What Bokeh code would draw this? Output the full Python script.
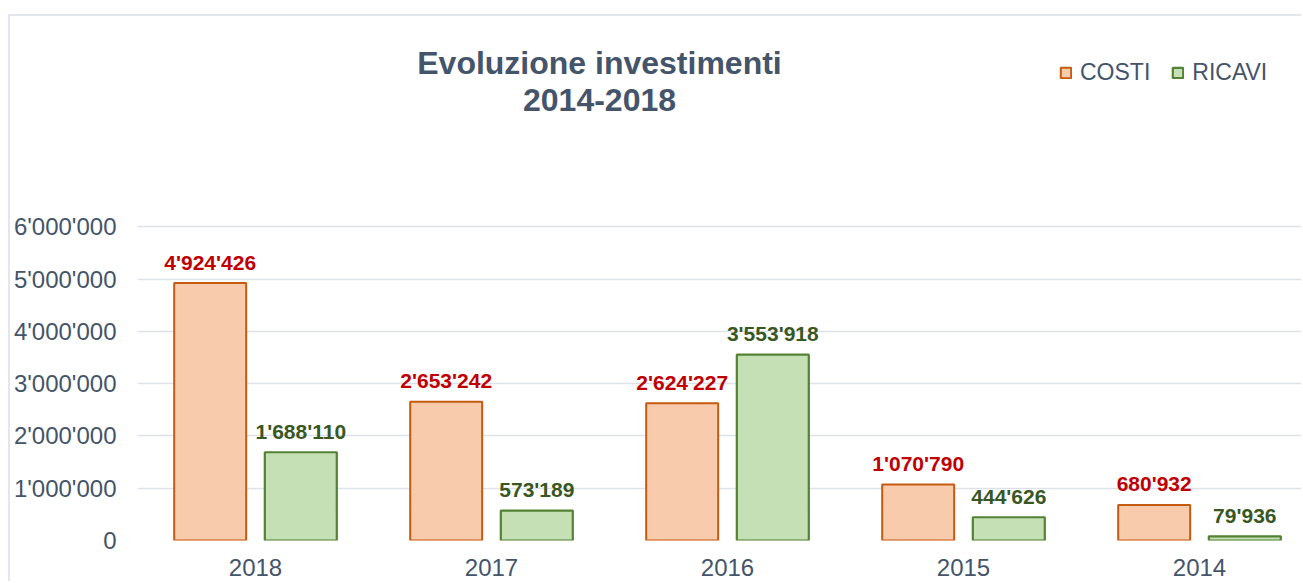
from bokeh.plotting import figure
from bokeh.models import (ColumnDataSource, Range1d, FixedTicker, Label, Legend,
                          LegendItem)
from bokeh.core.properties import value
from bokeh.embed import file_html
from bokeh.resources import INLINE

# ---------------- data ----------------
years = ["2018", "2017", "2016", "2015", "2014"]
costi = [4924426, 2653242, 2624227, 1070790, 680932]
ricavi = [1688110, 573189, 3553918, 444626, 79936]
y_ticks = [0, 1000000, 2000000, 3000000, 4000000, 5000000, 6000000]
title_lines = ["Evoluzione investimenti", "2014-2018"]
series_names = ["COSTI", "RICAVI"]


def fmt(v):
    return f"{v:,}".replace(",", "'")


# ---------------- styling ----------------
FONT = "Liberation Sans"
TXT = "#44546A"
GRID = "#DDE2E9"
C_FILL, C_LINE, C_LAB = "#F8CBAD", "#C55A11", "#C00000"
R_FILL, R_LINE, R_LAB = "#C5E0B4", "#548235", "#385723"

W, H = 1293, 567
ML, MB = 127, 43
PX_PER_CAT = 236.0
PX_PER_MIL = 52.28
frame_w = W - ML
frame_h = H - MB

xs = [i + 0.5 for i in range(len(years))]
off = 0.192
bw = 0.305

src = ColumnDataSource(dict(
    x=xs,
    xc=[x - off for x in xs],
    xr=[x + off for x in xs],
    costi=costi,
    ricavi=ricavi,
    lc=[fmt(v) for v in costi],
    lr=[fmt(v) for v in ricavi],
))

p = figure(width=W, height=H,
           x_range=Range1d(0, frame_w / PX_PER_CAT),
           y_range=Range1d(0, frame_h / PX_PER_MIL * 1e6),
           output_backend="svg", toolbar_location=None,
           min_border_left=ML, min_border_right=0, min_border_top=0,
           min_border_bottom=MB, title_location=None)
p.styles = {"border-top": "2px solid #E3E7ED", "border-left": "2px solid #E3E7ED",
            "margin-top": "14px", "margin-left": "8px"}
p.outline_line_color = None
p.background_fill_color = "white"
p.border_fill_color = "white"

rc = p.vbar(x="xc", top="costi", width=bw, source=src, fill_color=C_FILL,
            line_color=C_LINE, line_width=2)
rr = p.vbar(x="xr", top="ricavi", width=bw, source=src, fill_color=R_FILL,
            line_color=R_LINE, line_width=2.2)

p.text(x="xc", y="costi", text="lc", source=src, text_align="center",
       text_baseline="alphabetic", y_offset=-21, text_color=C_LAB,
       text_font=value(FONT), text_font_style="bold", text_font_size="21px")
p.text(x="xr", y="ricavi", text="lr", source=src, text_align="center",
       text_baseline="alphabetic", y_offset=-21, text_color=R_LAB,
       text_font=value(FONT), text_font_style="bold", text_font_size="21px")

# axes
p.xaxis.ticker = FixedTicker(ticks=xs)
p.xaxis.major_label_overrides = {x: y for x, y in zip(xs, years)}
p.yaxis.ticker = FixedTicker(ticks=y_ticks)
p.yaxis.major_label_overrides = {v: fmt(v) for v in y_ticks}
for ax in (p.xaxis, p.yaxis):
    ax.axis_line_color = None
    ax.major_tick_line_color = None
    ax.minor_tick_line_color = None
    ax.major_tick_out = 0
    ax.major_tick_in = 0
    ax.major_label_text_font = FONT
    ax.major_label_text_font_size = "24px"
    ax.major_label_text_color = TXT
p.xaxis.major_label_standoff = 18
p.yaxis.major_label_standoff = 21

p.xgrid.grid_line_color = None
p.ygrid.grid_line_color = GRID
p.ygrid.grid_line_width = 1.5

# title
for txt, yy in zip(title_lines, [478, 441]):
    p.add_layout(Label(x=462, y=yy, x_units="screen", y_units="screen", text=txt,
                       text_align="center", text_baseline="alphabetic",
                       text_font=FONT, text_font_style="bold",
                       text_font_size="32px", text_color=TXT))

legend = Legend(items=[LegendItem(label=series_names[0], renderers=[rc]),
                       LegendItem(label=series_names[1], renderers=[rr])],
                orientation="horizontal", location=(922, 454),
                glyph_width=13, glyph_height=13, label_standoff=8, spacing=21,
                padding=0, margin=0, border_line_color=None,
                background_fill_alpha=0,
                label_text_font=FONT, label_text_font_size="23px",
                label_text_color=TXT, label_height=13)
p.add_layout(legend)

open("out.html", "w").write(file_html(p, INLINE))
